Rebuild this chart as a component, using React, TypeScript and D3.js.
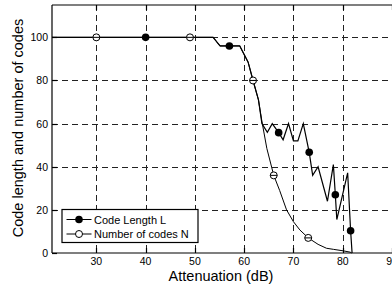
import * as d3 from 'd3';
import React, { useEffect, useRef } from 'react';

// Code length L (filled markers)
const attenL = [21, 53.7, 55.1, 59.1, 60.8, 61.8, 62.9, 63.6, 64.7, 65.7, 67, 67.9, 69, 70, 70.9, 72, 73.2, 73.9, 75, 76.9, 78.1, 78.5, 78.8, 81, 81.6, 81.9];
const lengthL = [100, 100, 96, 96, 88.5, 80, 71, 60, 56, 60, 55.8, 52.5, 60, 52, 52, 60, 46.7, 36, 40, 24, 41, 27, 15.5, 37.2, 10.3, 0];
const markAttenL = [40, 57, 67, 73.2, 78.5, 81.6];
const markLengthL = [100, 96, 55.8, 46.7, 27, 10.3];

// Number of codes N (open markers)
const attenN = [21, 53.7, 55.1, 59.1, 60.8, 61.8, 62.9, 63.6, 64.6, 66, 67.2, 68.6, 70, 71.3, 73, 75, 76.7, 78.1, 80.1, 81.5, 81.8];
const codesN = [100, 100, 96, 96, 88.5, 80, 71, 61, 48.5, 36, 29, 20, 14.5, 10.7, 7, 4, 2.2, 1.7, 1, 0.4, 0];
const markAttenN = [30, 49, 61.8, 66, 73];
const markCodesN = [100, 100, 80, 36, 7];

const xTicks = [30, 40, 50, 60, 70, 80, 90];
const yTicks = [0, 20, 40, 60, 80, 100];

export default function App() {
    const svgRef = useRef<SVGSVGElement>(null);

    const width = 392;
    const height = 291;
    const left = 52, right = 392, top = 5, bottom = 253;
    const font = "'Liberation Sans', Arial, sans-serif";

    useEffect(() => {
        const svg = d3.select(svgRef.current);
        svg.selectAll("*").remove();

        const x = d3.scaleLinear().domain([21, 90]).range([left, right]);
        const y = d3.scaleLinear().domain([0, 115]).range([bottom, top]);

        svg.append("rect").attr("width", width).attr("height", height).attr("fill", "white");

        // grid
        const grid = svg.append("g").attr("stroke", "#222").attr("stroke-width", 1)
            .attr("stroke-dasharray", "6,4");
        xTicks.forEach(t => {
            grid.append("line").attr("x1", Math.round(x(t)) + 0.5).attr("x2", Math.round(x(t)) + 0.5)
                .attr("y1", top).attr("y2", bottom);
        });
        yTicks.filter(t => t > 0).forEach(t => {
            grid.append("line").attr("y1", Math.round(y(t)) + 0.5).attr("y2", Math.round(y(t)) + 0.5)
                .attr("x1", left).attr("x2", right);
        });

        // box + ticks
        const axes = svg.append("g").attr("stroke", "black").attr("stroke-width", 1.2);
        axes.append("line").attr("x1", left).attr("x2", right).attr("y1", top).attr("y2", top);
        axes.append("line").attr("x1", left).attr("x2", right).attr("y1", bottom).attr("y2", bottom);
        axes.append("line").attr("x1", left).attr("x2", left).attr("y1", top).attr("y2", bottom);
        xTicks.forEach(t => {
            const px = Math.round(x(t)) + 0.5;
            axes.append("line").attr("x1", px).attr("x2", px).attr("y1", bottom).attr("y2", bottom - 5);
            axes.append("line").attr("x1", px).attr("x2", px).attr("y1", top).attr("y2", top + 5);
        });
        yTicks.forEach(t => {
            const py = Math.round(y(t)) + 0.5;
            axes.append("line").attr("x1", left).attr("x2", left + 5).attr("y1", py).attr("y2", py);
        });

        // tick labels
        const labels = svg.append("g").attr("font-family", font).attr("font-size", 10.5).attr("fill", "black");
        xTicks.forEach(t => {
            labels.append("text").attr("x", x(t)).attr("y", 265).attr("text-anchor", "middle").text(t);
        });
        yTicks.forEach(t => {
            labels.append("text").attr("x", 48).attr("y", y(t) + 4).attr("text-anchor", "end").text(t);
        });

        // axis titles
        svg.append("text").attr("x", 221).attr("y", 281).attr("text-anchor", "middle")
            .attr("font-family", font).attr("font-size", 14.5).text("Attenuation (dB)");
        svg.append("text").attr("transform", "translate(23,128) rotate(-90)").attr("text-anchor", "middle")
            .attr("font-family", font).attr("font-size", 14.5).text("Code length and number of codes");

        // lines
        const line = d3.line<[number, number]>().x(d => x(d[0])).y(d => y(d[1]));
        svg.append("path").datum(attenN.map((a, i) => [a, codesN[i]] as [number, number]))
            .attr("d", line).attr("fill", "none").attr("stroke", "black").attr("stroke-width", 1);
        svg.append("path").datum(attenL.map((a, i) => [a, lengthL[i]] as [number, number]))
            .attr("d", line).attr("fill", "none").attr("stroke", "black").attr("stroke-width", 1.2);

        // markers
        markAttenN.forEach((a, i) => {
            svg.append("circle").attr("cx", x(a)).attr("cy", y(markCodesN[i])).attr("r", 3.5)
                .attr("fill", "white").attr("stroke", "black").attr("stroke-width", 1);
            svg.append("line").attr("x1", x(a) - 3.5).attr("x2", x(a) + 3.5)
                .attr("y1", y(markCodesN[i])).attr("y2", y(markCodesN[i])).attr("stroke", "black");
        });
        markAttenL.forEach((a, i) => {
            svg.append("circle").attr("cx", x(a)).attr("cy", y(markLengthL[i])).attr("r", 3.8)
                .attr("fill", "black");
        });

        // legend
        const lg = svg.append("g");
        lg.append("rect").attr("x", 62).attr("y", 209.5).attr("width", 136).attr("height", 33)
            .attr("fill", "white").attr("stroke", "black").attr("stroke-width", 1.2);
        const rows = [
            { label: "Code Length L", filled: true, yy: 219.5 },
            { label: "Number of codes N", filled: false, yy: 234 },
        ];
        rows.forEach(r => {
            lg.append("line").attr("x1", 66.5).attr("x2", 91.5).attr("y1", r.yy).attr("y2", r.yy)
                .attr("stroke", "black").attr("stroke-width", 1);
            lg.append("circle").attr("cx", 79).attr("cy", r.yy).attr("r", r.filled ? 3.8 : 3.5)
                .attr("fill", r.filled ? "black" : "white").attr("stroke", "black").attr("stroke-width", r.filled ? 0 : 1);
            lg.append("text").attr("x", 94).attr("y", r.yy + 4).attr("font-family", font)
                .attr("font-size", 11).text(r.label);
        });
    }, []);

    return (
        <svg ref={svgRef} width={width} height={height}
            style={{ position: "absolute", left: 0, top: 0 }}></svg>
    );
}
